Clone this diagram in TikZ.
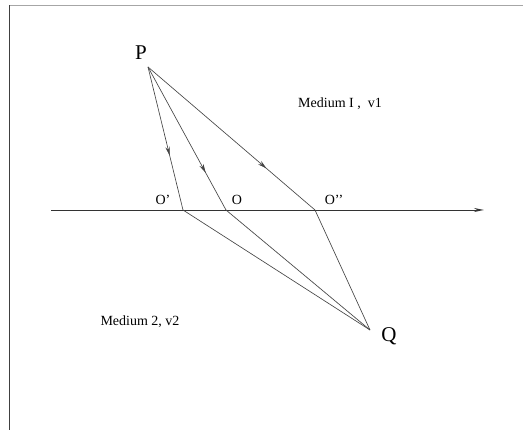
\documentclass[tikz,border=0pt]{standalone}
\usepackage{fontspec}
\setmainfont{Liberation Serif}
\usetikzlibrary{arrows.meta,decorations.markings}
\definecolor{ln}{HTML}{454545}
\tikzset{
  ray/.style={draw=ln, line width=0.65pt},
  midtip/.style={postaction={decorate},decoration={markings,
     mark=at position #1 with {\arrow[ln]{Stealth[length=9pt,width=4.5pt]}}}},
  big/.style={font=\fontsize{21}{25}\selectfont, inner sep=0pt},
  small/.style={font=\fontsize{14}{16}\selectfont, inner sep=0pt},
}
\begin{document}
\begin{tikzpicture}[x=1pt,y=-1pt]
\useasboundingbox (0,0) rectangle (523,430);
% frame
\draw[draw=gray!70, line width=1pt] (9,5.5) -- (523,5.5);
\draw[draw=black!75, line width=1pt] (9,5.5) -- (9,430);
% points
\coordinate (P) at (148,67);
\coordinate (O1) at (183,210);
\coordinate (O) at (226,210);
\coordinate (O2) at (315,210);
\coordinate (Q) at (370,330);
\coordinate (A0) at (51,210);
\coordinate (A1) at (484,210);
% axis
\draw[draw=black!80, line width=0.8pt, -{Stealth[length=10pt,width=4pt,open]}] (A0) -- (A1);
% rays
\draw[ray, midtip=0.62] (P) -- (O1);
\draw[ray, midtip=0.74] (P) -- (O);
\draw[ray, midtip=0.71] (P) -- (O2);
\draw[ray] (O1) -- (Q);
\draw[ray] (O) -- (Q);
\draw[ray] (O2) -- (Q);
% labels
\node[big, anchor=base] (lP) at (141,60) {P};
\node[big, anchor=base] (lQ) at (389,342) {Q};
\node[small, anchor=base] (lO1) at (163,204.5) {O’};
\node[small, anchor=base] (lO) at (237,204.5) {O};
\node[small, anchor=base] (lO2) at (334,204.5) {O’’};
\node[small, anchor=base] (m1) at (340,108) {Medium I ,\ \ v1};
\node[small, anchor=base] (m2) at (140,325.5) {Medium 2, v2};
\end{tikzpicture}
\end{document}
